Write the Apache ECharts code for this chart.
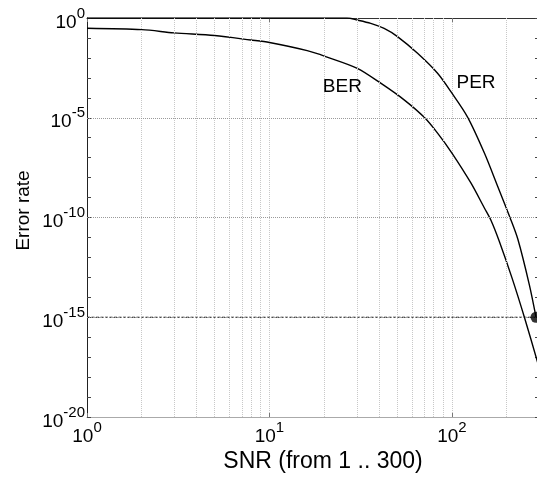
<!DOCTYPE html>
<html><head><meta charset="utf-8">
<script src="https://cdn.jsdelivr.net/npm/echarts@6/dist/echarts.min.js"></script>
<style>html,body{margin:0;padding:0;background:#fff;overflow:hidden}#c{width:537px;height:481px}</style>
</head><body><div id="c"></div>
<script>
// ---- data ----
const berSNR  = [1, 2, 3, 5, 7.9, 10, 16.1, 20.3, 30.3, 40.7, 54.7, 70.5, 83.4, 100, 127, 150.6, 163.8, 181.9, 213.8, 249.5, 300];
const berRate = [0.305, 0.26, 0.18, 0.132, 0.079, 0.059, 0.023, 0.0117, 3.0e-3, 5.4e-4, 7.9e-5, 1.05e-5, 1.7e-6, 1.7e-7, 5.4e-9, 3.0e-10, 7.1e-11, 6.3e-12, 8.9e-14, 1.0e-15, 3.2e-18];
const perSNR  = [1, 10, 20, 26.6, 30.3, 35.9, 42.5, 50.3, 64.8, 83.4, 100, 122, 150.6, 178, 208, 230, 266, 289];
const perRate = [1, 1, 1, 1, 0.79, 0.54, 0.30, 0.117, 0.017, 1.7e-3, 1.7e-4, 1.05e-5, 1.7e-7, 3.7e-9, 1.0e-10, 7.9e-12, 4.0e-14, 1.0e-15];
const thresholdRate = 1e-15;
const snrRange = [1, 300];
const rateRange = [1e-20, 1];
const markerSNR = 289;
const markerRate = 1e-15;
const xMinorGrid = [2, 3, 4, 5, 6, 7, 8, 9, 20, 30, 40, 50, 60, 70, 80, 90, 200];
const yGridRates = [1e-5, 1e-10, 1e-15];
const curveNames = ['BER', 'PER'];
const curveLabelAt = [[25.1, 3.7e-4], [135.5, 5.6e-4]];

// ---- chart ----
const lg = v => Math.log10(v);
const FF = "'Liberation Sans', Arial, sans-serif";
const pair = (xs, ys) => xs.map((x, i) => [lg(x), lg(ys[i])]);

function powLabel(step) {
  return function (v) {
    if (Math.abs(v - Math.round(v)) > 1e-6) return '';
    const e = Math.round(v);
    if (e % step !== 0) return '';
    return '{b|10}{s|' + (e === 0 ? 0 : e) + '}';
  };
}
const rich = {
  b: { fontSize: 19, lineHeight: 26, verticalAlign: 'bottom', fontFamily: FF, color: '#000' },
  s: { fontSize: 15, lineHeight: 16, verticalAlign: 'top', fontFamily: FF, color: '#000' }
};
const xMin = lg(snrRange[0]), xMax = lg(snrRange[1]);
const yMin = lg(rateRange[0]), yMax = lg(rateRange[1]);

const gridLine = { silent: true, symbol: ['none', 'none'], label: { show: false }, animation: false };

const chart = echarts.init(document.getElementById('c'), null, { renderer: 'canvas' });
chart.setOption({
  animation: false,
  backgroundColor: '#fff',
  grid: { left: 87, top: 18, width: 452, height: 399, containLabel: false, outerBoundsMode: 'none' },
  xAxis: [{
    type: 'value', min: xMin, max: xMax, interval: 1, position: 'bottom',
    axisLine: { show: true, onZero: false, lineStyle: { color: '#aaa', width: 1 } },
    axisTick: { show: true, inside: true, length: 4, lineStyle: { color: '#777' } },
    axisLabel: { formatter: powLabel(1), rich: rich, margin: 3, showMinLabel: true, showMaxLabel: true },
    splitLine: { show: true, lineStyle: { color: '#c8c8c8', type: 'dotted', width: 1 } },
    name: 'SNR (from 1 .. 300)', nameLocation: 'middle', nameGap: 33, nameMoveOverlap: false,
    nameTextStyle: { fontSize: 23, color: '#000', fontFamily: FF, padding: [0, 0, 0, 20] }
  }, {
    type: 'value', min: xMin, max: xMax, interval: 1, position: 'top',
    axisLine: { show: true, onZero: false, lineStyle: { color: '#333', width: 1 } },
    axisTick: { show: true, inside: true, length: 4, lineStyle: { color: '#777' } },
    axisLabel: { show: false }, splitLine: { show: false }
  }],
  yAxis: [{
    type: 'value', min: yMin, max: yMax, interval: 1, position: 'left',
    axisLine: { show: true, onZero: false, lineStyle: { color: '#222', width: 1 } },
    axisTick: { show: true, inside: true, length: 4, lineStyle: { color: '#444' } },
    axisLabel: { formatter: powLabel(5), rich: rich, margin: 2, padding: [2, 0, 0, 0] },
    splitLine: { show: false },
    name: 'Error rate', nameLocation: 'middle', nameGap: 54, nameRotate: 90, nameMoveOverlap: false,
    nameTextStyle: { fontSize: 19, color: '#000', fontFamily: FF, padding: [0, 0, 0, 14] }
  }, {
    type: 'value', min: yMin, max: yMax, interval: 1, position: 'right',
    axisLine: { show: true, onZero: false, lineStyle: { color: '#444', width: 1 } },
    axisTick: { show: true, inside: true, length: 4, lineStyle: { color: '#444' } },
    axisLabel: { show: false }, splitLine: { show: false }
  }],
  series: [
    {
      name: 'grid', type: 'line', data: [[xMin, yMin]], symbol: 'none', z: 1, silent: true,
      lineStyle: { opacity: 0 },
      markLine: Object.assign({}, gridLine, {
        data: xMinorGrid.map(v => ({ xAxis: lg(v) })),
        lineStyle: { color: '#c8c8c8', type: 'dotted', width: 1 }
      })
    },
    {
      name: 'ygrid', type: 'line', data: [[xMin, yMin]], symbol: 'none', z: 1, silent: true,
      lineStyle: { opacity: 0 },
      markLine: Object.assign({}, gridLine, {
        data: yGridRates.map(v => ({ yAxis: lg(v) })),
        lineStyle: { color: '#9a9a9a', type: 'dotted', width: 1 }
      })
    },
    {
      name: 'threshold', type: 'line', symbol: 'none', z: 3,
      data: [[xMin, lg(thresholdRate)], [xMax, lg(thresholdRate)]],
      lineStyle: { color: '#111', width: 1, type: [3, 1.5] }
    },
    {
      name: 'BER', type: 'line', symbol: 'none', smooth: 0.3, z: 4,
      data: pair(berSNR, berRate),
      lineStyle: { color: '#000', width: 1.4 },
      markPoint: {
        symbol: 'circle', symbolSize: 1, itemStyle: { color: 'rgba(0,0,0,0)' },
        label: { show: true, position: 'inside', color: '#000', fontSize: 19, fontFamily: FF, formatter: curveNames[0] },
        data: [{ coord: [lg(curveLabelAt[0][0]), lg(curveLabelAt[0][1])] }]
      }
    },
    {
      name: 'PER', type: 'line', symbol: 'none', smooth: 0.3, z: 4,
      data: pair(perSNR, perRate),
      lineStyle: { color: '#000', width: 1.4 },
      markPoint: {
        symbol: 'circle', symbolSize: 1, itemStyle: { color: 'rgba(0,0,0,0)' },
        label: { show: true, position: 'inside', color: '#000', fontSize: 19, fontFamily: FF, formatter: curveNames[1] },
        data: [{ coord: [lg(curveLabelAt[1][0]), lg(curveLabelAt[1][1])] }]
      }
    },
    {
      name: 'marker', type: 'scatter', z: 5, symbol: 'circle', symbolSize: 11,
      data: [[lg(markerSNR), lg(markerRate)]],
      itemStyle: { color: '#000' }
    }
  ]
});
</script>
</body></html>
